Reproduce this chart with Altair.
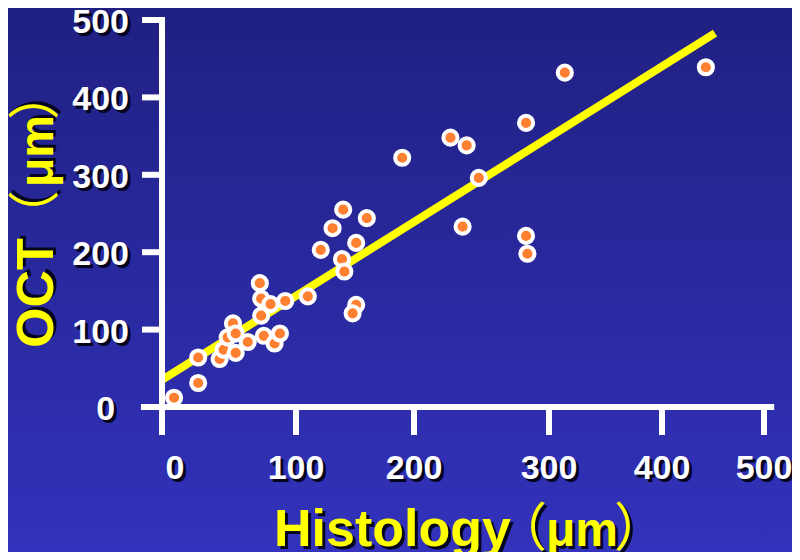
import altair as alt
import pandas as pd

# ---------------- data ----------------
histology = [9, 27, 27, 43, 46, 55, 49, 53, 55, 64, 76, 84, 88, 74, 73, 74, 81, 92,
             110, 121, 131, 151, 139, 141, 151, 148, 140, 160, 190, 227, 239, 248,
             236, 283, 283, 284, 314, 443]
oct_um = [12, 31, 64, 62, 74, 70, 90, 108, 95, 84, 92, 82, 95, 118, 160, 140, 133,
          137, 143, 203, 231, 212, 191, 175, 132, 121, 255, 244, 322, 348, 338, 296,
          233, 367, 221, 198, 432, 439]
fit_histology = [0, 452]
fit_oct = [35, 483]
x_tick_values = [0, 100, 200, 300, 400, 500]
y_tick_values = [0, 100, 200, 300, 400, 500]
x_tick_labels = ["0", "100", "200", "300", "400", "500"]
y_tick_labels = ["0", "100", "200", "300", "400", "500"]
x_title = "Histology"
y_title = "OCT"
paren_open = "（"
unit = "μm"
paren_close = "）"

# ---------------- layout / style ----------------
W, H = 784, 544
FONT = "Liberation Sans"
CJK = "Noto Sans CJK JP"
YELLOW = "#ffff00"
SHADOW = "#05051e"
WHITE = "#ffffff"

# hand-drawn slide axis: tick marks are not evenly spaced
xs = alt.Scale(domain=x_tick_values, range=[154, 288, 406, 541, 654, 756],
               nice=False, zero=False)
ys = alt.Scale(domain=[0, 500], range=[399, 12], nice=False, zero=False)

AX_BOTTOM = -36.2   # length of the axes below / left of origin (data units)
AX_TOP = 504
AX_LEFT = -15.7
AX_RIGHT = 510
YTICK_LEFT = -14.9


def X(f):
    return alt.X(f, type="quantitative", scale=xs, axis=None)


def Y(f):
    return alt.Y(f, type="quantitative", scale=ys, axis=None)


one = pd.DataFrame({"k": [0]})

bg = alt.Chart(one).mark_rect(
    fill=alt.LinearGradient(
        gradient="linear",
        stops=[alt.GradientStop(color="#202082", offset=0),
               alt.GradientStop(color="#3232bc", offset=1)],
        x1=0, x2=0, y1=0, y2=1),
    strokeWidth=0,
).encode(x=alt.value(0), x2=alt.value(W), y=alt.value(0), y2=alt.value(H))

fit = alt.Chart(pd.DataFrame({"h": fit_histology, "o": fit_oct})).mark_line(
    color=YELLOW, strokeWidth=8, strokeCap="butt"
).encode(x=X("h"), y=Y("o"))

pts = alt.Chart(pd.DataFrame({"h": histology, "o": oct_um})).mark_circle(
    size=200, fill="#ff8030", stroke=WHITE, strokeWidth=4, opacity=1, fillOpacity=1
).encode(x=X("h"), y=Y("o"))

rule_kw = dict(color=WHITE, strokeWidth=6, strokeCap="butt")

yaxis_line = alt.Chart(pd.DataFrame({"x": [0], "y": [AX_BOTTOM], "y2": [AX_TOP]})).mark_rule(
    **rule_kw).encode(x=X("x"), y=Y("y"), y2="y2:Q")
xaxis_line = alt.Chart(pd.DataFrame({"x": [AX_LEFT], "x2": [AX_RIGHT], "y": [0]})).mark_rule(
    **rule_kw).encode(x=X("x"), x2="x2:Q", y=Y("y"))
xticks = alt.Chart(pd.DataFrame({"x": x_tick_values,
                                 "y": [0] * len(x_tick_values),
                                 "y2": [AX_BOTTOM] * len(x_tick_values)})).mark_rule(
    **rule_kw).encode(x=X("x"), y=Y("y"), y2="y2:Q")
yticks = alt.Chart(pd.DataFrame({"y": y_tick_values,
                                 "x": [YTICK_LEFT] * len(y_tick_values),
                                 "x2": [0] * len(y_tick_values)})).mark_rule(
    **rule_kw).encode(x=X("x"), x2="x2:Q", y=Y("y"))

lab_kw = dict(font=FONT, fontSize=34, fontWeight="bold")

ylab_base = alt.Chart(pd.DataFrame({"v": y_tick_values, "t": y_tick_labels})).transform_calculate(
    lx="datum.v == 0 ? -35 : -24.6")
ylab_sh = ylab_base.mark_text(align="right", baseline="middle", color=SHADOW, dx=3, dy=6,
                              **lab_kw).encode(x=X("lx"), y=Y("v"), text="t:N")
ylab = ylab_base.mark_text(align="right", baseline="middle", color=WHITE, dy=3,
                           **lab_kw).encode(x=X("lx"), y=Y("v"), text="t:N")

xlab_base = alt.Chart(pd.DataFrame({"v": x_tick_values, "t": x_tick_labels})).transform_calculate(
    lx="datum.v == 0 ? 9.7 : datum.v", ly="-80.7")
xlab_sh = xlab_base.mark_text(align="center", baseline="middle", color=SHADOW, dx=3, dy=3,
                              **lab_kw).encode(x=X("lx"), y=Y("ly"), text="t:N")
xlab = xlab_base.mark_text(align="center", baseline="middle", color=WHITE,
                           **lab_kw).encode(x=X("lx"), y=Y("ly"), text="t:N")


def title_piece(text, x, y, size, font, weight, align, angle=0):
    base = alt.Chart(pd.DataFrame({"t": [text]}))
    kw = dict(font=font, fontSize=size, fontWeight=weight, align=align,
              baseline="alphabetic", angle=angle)
    sh = base.mark_text(color=SHADOW, dx=3, dy=3, **kw).encode(
        x=alt.value(x), y=alt.value(y), text="t:N")
    fr = base.mark_text(color=YELLOW, **kw).encode(
        x=alt.value(x), y=alt.value(y), text="t:N")
    return [sh, fr]


titles = []
# x-axis title
titles += title_piece(x_title, 266, 538, 52, FONT, "bold", "left")
titles += title_piece(paren_open, 513, 538, 52, CJK, "normal", "center")
titles += title_piece(unit, 538, 538, 48, FONT, "bold", "left")
titles += title_piece(paren_close, 632, 538, 52, CJK, "normal", "center")
# y-axis title (rotated)
titles += title_piece(y_title, 45, 340, 52, FONT, "bold", "left", 270)
titles += title_piece(paren_open, 45, 208, 52, CJK, "normal", "center", 270)
titles += title_piece(unit, 45, 179, 48, FONT, "bold", "left", 270)
titles += title_piece(paren_close, 45, 86, 52, CJK, "normal", "center", 270)

chart = alt.layer(
    bg, fit, pts, xaxis_line, yaxis_line, xticks, yticks,
    ylab_sh, ylab, xlab_sh, xlab, *titles
).properties(
    width=W, height=H, padding=0,
    autosize=alt.AutoSizeParams(type="none"),
    background="#2a2aa0",
).configure_view(stroke=None)

chart.save("out.html", embed_options={"renderer": "svg", "actions": False})
